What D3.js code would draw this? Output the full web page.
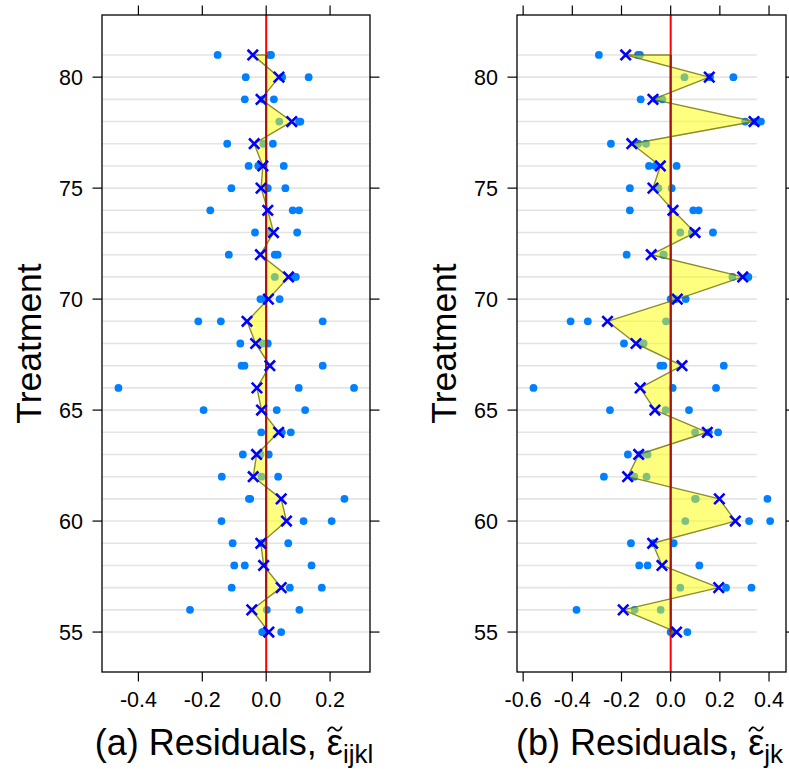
<!DOCTYPE html>
<html><head><meta charset="utf-8">
<script src="https://cdn.jsdelivr.net/npm/d3@7"></script>
<style>body{margin:0;background:#fff} svg{display:block}</style>
</head><body>
<script>
const treatments = [55,56,57,58,59,60,61,62,63,64,65,66,67,68,69,70,71,72,73,74,75,76,77,78,79,80,81];

const leftResiduals = [
  [-0.0125,-0.0095,0.047],[-0.2385,0.002,0.104],[-0.108,0.074,0.174],[-0.100,-0.067,0.142],
  [-0.105,-0.014,0.069],[-0.140,0.117,0.205],[-0.054,-0.050,0.245],[-0.139,-0.0146,0.0375],
  [-0.073,-0.018,0.008],[-0.0156,0.049,0.077],[-0.196,0.033,0.122],[-0.4625,0.102,0.275],
  [-0.077,-0.068,0.177],[-0.081,-0.011,0.005],[-0.2125,-0.142,0.177],[-0.018,-0.005,0.042],
  [0.027,0.0875,0.093],[-0.117,0.027,0.036],[-0.035,0.010,0.097],[-0.175,0.083,0.103],
  [-0.109,0.005,0.060],[-0.055,-0.025,0.055],[-0.122,-0.009,0.021],[0.041,0.103,0.107],
  [-0.067,-0.010,0.024],[-0.064,0.050,0.133],[-0.152,0.012,0.015]
];
const leftMeans = [0.0083,-0.045,0.047,-0.008,-0.0167,0.0635,0.047,-0.0406,-0.030,0.039,-0.0146,-0.029,
  0.0115,-0.033,-0.060,0.007,0.070,-0.018,0.023,0.005,-0.016,-0.0104,-0.0375,0.080,-0.016,0.040,-0.042];

const rightResiduals = [
  [0.000,0.004,0.068],[-0.383,-0.1467,-0.0407],[0.039,0.225,0.3285],[-0.128,-0.094,0.1166],
  [-0.1617,-0.070,0.012],[0.0595,0.319,0.4045],[0.099,0.102,0.3935],[-0.2716,-0.148,-0.098],
  [-0.174,-0.122,-0.094],[0.099,0.155,0.193],[-0.247,-0.0204,0.0745],[-0.558,0.008,0.1845],
  [-0.042,-0.030,0.216],[-0.190,-0.123,-0.110],[-0.407,-0.337,-0.019],[0.000,0.020,0.061],
  [0.251,0.312,0.316],[-0.179,-0.030,-0.028],[0.039,0.086,0.172],[-0.166,0.092,0.114],
  [-0.166,-0.0505,0.004],[-0.088,-0.062,0.024],[-0.243,-0.132,-0.100],[0.303,0.347,0.367],
  [-0.122,-0.060,-0.034],[0.056,0.160,0.255],[-0.292,-0.133,-0.125]
];
const rightMeans = [0.024,-0.193,0.1955,-0.0354,-0.0733,0.263,0.198,-0.175,-0.130,0.149,-0.064,-0.124,
  0.046,-0.141,-0.257,0.027,0.293,-0.079,0.099,0.0094,-0.072,-0.042,-0.158,0.339,-0.072,0.157,-0.183];

const leftTicks = [-0.4,-0.2,0.0,0.2];
const rightTicks = [-0.6,-0.4,-0.2,0.0,0.2,0.4];
const yTicks = [55,60,65,70,75,80];
const gridExtent = [-0.7, 0.35];

const W = 789, H = 769;
const FONT = "'Liberation Sans', Arial, Helvetica, sans-serif";
const svg = d3.select("body").append("svg").attr("width", W).attr("height", H)
  .style("font-family", FONT);

const plotTop = 15, plotBottom = 672;
const yScale = d3.scaleLinear().domain([53.2, 82.8]).range([plotBottom, plotTop]);

function panel(cfg) {
  const x = d3.scaleLinear().domain(cfg.domain).range([cfg.x0, cfg.x1]);
  const y = yScale;
  const g = svg.append("g");
  const clipId = "clip" + cfg.id;
  svg.append("defs").append("clipPath").attr("id", clipId)
    .append("rect").attr("x", cfg.x0).attr("y", plotTop).attr("width", cfg.x1 - cfg.x0).attr("height", plotBottom - plotTop);
  const pg = g.append("g").attr("clip-path", `url(#${clipId})`);

  pg.selectAll("line.grid").data(treatments).join("line").attr("class", "grid")
    .attr("x1", x(gridExtent[0])).attr("x2", x(gridExtent[1]))
    .attr("y1", d => y(d)).attr("y2", d => y(d))
    .attr("stroke", "#e4e4e4").attr("stroke-width", 1.6);

  const pts = [];
  treatments.forEach((t, i) => cfg.resid[i].forEach(v => pts.push({t, v})));
  pg.selectAll("circle").data(pts).join("circle")
    .attr("cx", d => x(d.v)).attr("cy", d => y(d.t)).attr("r", 3.9)
    .attr("fill", "#0080ff");

  pg.append("line").attr("x1", x(0)).attr("x2", x(0)).attr("y1", plotTop).attr("y2", plotBottom)
    .attr("stroke", "#ff0000").attr("stroke-width", 2);

  const poly = [[0, treatments[0]]].concat(treatments.map((t, i) => [cfg.means[i], t]))
    .concat([[0, treatments[treatments.length - 1]]]);
  pg.append("path")
    .attr("d", d3.line().x(d => x(d[0])).y(d => y(d[1]))(poly) + "Z")
    .attr("fill", "#ffff00").attr("fill-opacity", 0.5)
    .attr("stroke", "#6f6f00").attr("stroke-opacity", 0.8).attr("stroke-width", 1.4)
    .attr("stroke-linejoin", "round");
  pg.append("line").attr("x1", x(0)).attr("x2", x(0))
    .attr("y1", y(treatments[0])).attr("y2", y(treatments[treatments.length - 1]))
    .attr("stroke", "#a81010").attr("stroke-width", 2);

  pg.selectAll("path.cross").data(treatments.map((t, i) => ({t, v: cfg.means[i]}))).join("path")
    .attr("class", "cross")
    .attr("transform", d => `translate(${x(d.v)},${y(d.t)})`)
    .attr("d", "M-5.2,-5.2L5.2,5.2M-5.2,5.2L5.2,-5.2")
    .attr("stroke", "#0000ff").attr("stroke-width", 2.6).attr("fill", "none");

  g.append("rect").attr("x", cfg.x0).attr("y", plotTop).attr("width", cfg.x1 - cfg.x0).attr("height", plotBottom - plotTop)
    .attr("fill", "none").attr("stroke", "#000").attr("stroke-width", 1.3);

  const tk = 9.5;
  cfg.xticks.forEach(v => {
    g.append("line").attr("x1", x(v)).attr("x2", x(v)).attr("y1", plotTop).attr("y2", plotTop - tk)
      .attr("stroke", "#000").attr("stroke-width", 1.2);
    g.append("line").attr("x1", x(v)).attr("x2", x(v)).attr("y1", plotBottom).attr("y2", plotBottom + tk)
      .attr("stroke", "#000").attr("stroke-width", 1.2);
    g.append("text").attr("x", x(v)).attr("y", 706.5).attr("text-anchor", "middle")
      .attr("font-size", 21.5).text(v.toFixed(1));
  });
  yTicks.forEach(t => {
    g.append("line").attr("x1", cfg.x0).attr("x2", cfg.x0 - tk).attr("y1", y(t)).attr("y2", y(t))
      .attr("stroke", "#000").attr("stroke-width", 1.2);
    g.append("line").attr("x1", cfg.x1).attr("x2", cfg.x1 + tk).attr("y1", y(t)).attr("y2", y(t))
      .attr("stroke", "#000").attr("stroke-width", 1.2);
    g.append("text").attr("x", cfg.x0 - 19).attr("y", y(t)).attr("dy", "0.36em")
      .attr("text-anchor", "end").attr("font-size", 21.5).text(t);
  });

  g.append("text").attr("transform", `translate(${cfg.ytx},${(plotTop + plotBottom) / 2}) rotate(-90)`)
    .attr("dy", "0.36em").attr("text-anchor", "middle").attr("font-size", 35.5).text("Treatment");

  const prefix = cfg.label + " Residuals, ";
  const xt = g.append("text").attr("x", (cfg.x0 + cfg.x1) / 2 - 2).attr("y", 755)
    .attr("text-anchor", "middle").attr("font-size", 36);
  xt.append("tspan").text(prefix);
  xt.append("tspan").text("\u03B5");
  xt.append("tspan").attr("dy", 8).attr("font-size", 26).text(cfg.sub);
  const ext = xt.node().getExtentOfChar(prefix.length);
  // tilde accent over epsilon (drawn as a path)
  g.append("path")
    .attr("transform", `translate(${ext.x + ext.width / 2},729)`)
    .attr("d", "M-7,2.5C-5,-2.5 -2,-2.5 0,0S5,2.5 7,-2.5")
    .attr("fill", "none").attr("stroke", "#000").attr("stroke-width", 1.8);
}

panel({id: "a", x0: 102, x1: 370, domain: [-0.514, 0.325], xticks: leftTicks,
  resid: leftResiduals, means: leftMeans, label: "(a)", sub: "ijkl", ytx: 28});
panel({id: "b", x0: 517, x1: 786, domain: [-0.625, 0.469], xticks: rightTicks,
  resid: rightResiduals, means: rightMeans, label: "(b)", sub: "jk", ytx: 443});
</script>
</body></html>
